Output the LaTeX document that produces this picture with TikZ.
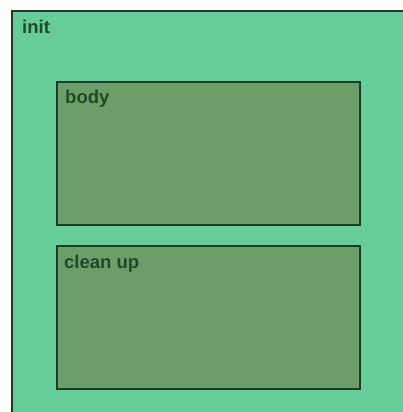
\documentclass[tikz,border=0pt]{standalone}
\usepackage{fontspec}
\setmainfont{Liberation Sans}
\definecolor{outerfill}{HTML}{66CC99}
\definecolor{innerfill}{HTML}{6E9E68}
\definecolor{edge}{HTML}{1C3A28}
\definecolor{txt}{HTML}{1E4A2C}
\tikzset{
  region/.style={draw=edge, line width=2pt, fill=#1},
  lbl/.style={anchor=base west, inner sep=0pt, text=txt, font=\bfseries\fontsize{18.5}{21}\selectfont}
}
\begin{document}
\begin{tikzpicture}[x=1pt,y=-1pt]
\useasboundingbox (0,0) rectangle (402,412);
\fill[white] (0,0) rectangle (402,412);
\path[region=outerfill] (12,11) rectangle (412,422);
\node[lbl] (init) at (22,34) {init};
\path[region=innerfill] (57,82) rectangle (360,225);
\node[lbl] (body) at (65,103) {body};
\path[region=innerfill] (57,246) rectangle (360,389);
\node[lbl] (clean) at (64,268) {clean up};
\end{tikzpicture}
\end{document}
